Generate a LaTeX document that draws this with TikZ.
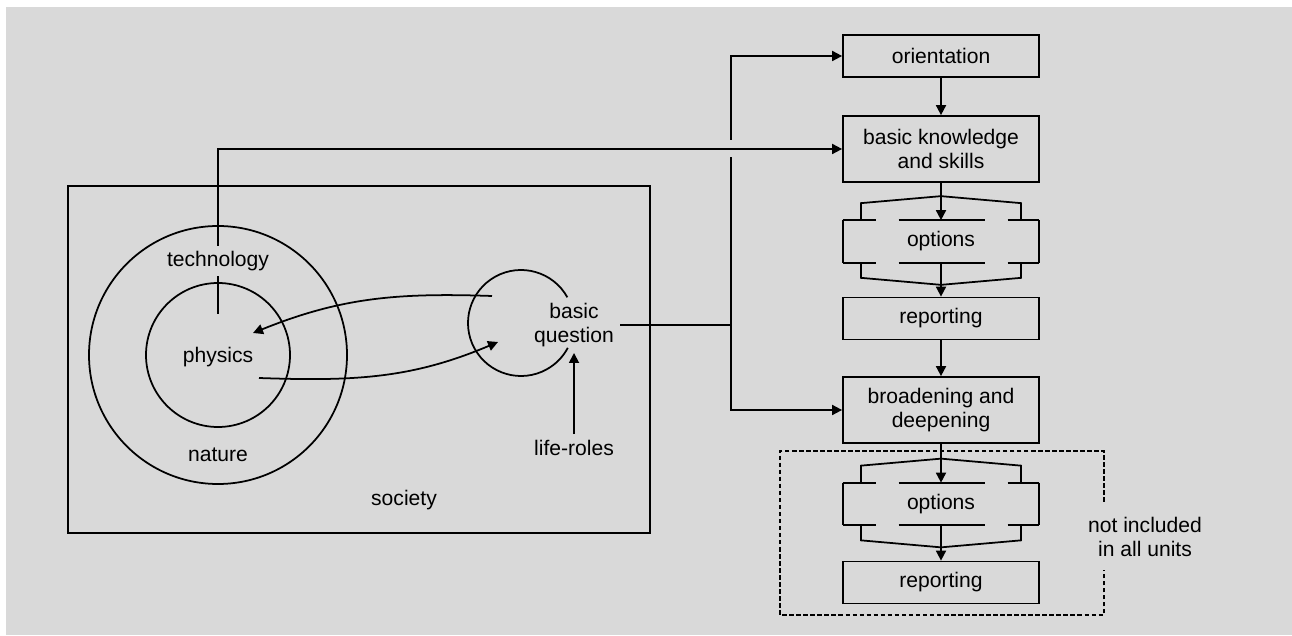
\documentclass[tikz,border=0pt]{standalone}
\usepackage{fontspec}
\setmainfont{Liberation Sans}
\usepackage{tikz}
\usetikzlibrary{
  positioning,
  arrows.meta,
  calc
}
\definecolor{BackGray}{RGB}{217,217,217}
\tikzset{
  % every text in the picture
  every node/.style={font=\fontsize{12}{13.6}\selectfont},
  % plain line
  conn/.style={line width=1pt},
  % arrow line
  arr/.style={conn, -{Triangle[length=2mm,width=2mm]}},
  % process box on the right
  stepbox/.style={
    draw,
    line width=1pt,
    minimum width=3.92cm,
    minimum height=0.84cm,
    inner sep=0pt,
    align=center
  },
  % box with two lines of text
  tallbox/.style={stepbox, minimum height=1.32cm},
  % options block, drawn by hand
  optbox/.style={minimum width=3.92cm, minimum height=0.84cm, inner sep=0pt},
  % free label
  lbl/.style={align=center},
  % dashed frame
  dashbox/.style={line width=1pt, dash pattern=on 2.6pt off 1.4pt}
}
\begin{document}
\begin{tikzpicture}
  \useasboundingbox (0,0) rectangle (25.84,12.7);
  \fill[BackGray] (0.12,0) rectangle (25.84,12.56);

  % society and the circles
  \draw[conn] (1.36,2.04) rectangle (13.0,8.98);
  \coordinate (ctr) at (4.36,5.6);
  \draw[conn] (ctr) circle[radius=2.58];
  \draw[conn] (ctr) circle[radius=1.44];
  \node[lbl, inner ysep=0.1cm] (tech) at (4.36,7.48) {technology};
  \node[lbl] (phys) at (4.36,5.56) {physics};
  \node[lbl] (nat)  at (4.36,3.6)  {nature};
  \node[lbl] (soc)  at (8.08,2.7)  {society};

  % basic question
  \coordinate (bqc) at (10.42,6.24);
  \draw[conn] ([shift={(29:1.06)}]bqc) arc[start angle=29, end angle=332, radius=1.06];
  \node[lbl] (bq) at (11.48,6.2) {basic\\question};
  \node[lbl] (life) at (11.48,3.74) {life-roles};

  % right column
  \node[stepbox] (ori)  at (18.82,11.58) {orientation};
  \node[tallbox] (bk)   at (18.82,9.72)  {basic knowledge\\and skills};
  \node[optbox] (opt1)  at (18.82,7.87)  {options};
  \node[stepbox] (rep1) at (18.82,6.33)  {reporting};
  \node[tallbox] (brd)  at (18.82,4.5)   {broadening and\\deepening};
  \node[optbox] (opt2)  at (18.82,2.62)  {options};
  \node[stepbox] (rep2) at (18.82,1.05)  {reporting};
  \node[lbl] (notinc) at (22.9,1.96) {not included\\in all units};

  \foreach \o in {opt1,opt2}{
    \draw[conn] (\o.north west) -- (\o.south west);
    \draw[conn] (\o.north east) -- (\o.south east);
    \foreach \a/\b in {0/0.66,1.12/2.84,3.3/3.92}{
      \draw[conn] ([xshift=\a cm]\o.north west) -- ([xshift=\b cm]\o.north west);
      \draw[conn] ([xshift=\a cm]\o.south west) -- ([xshift=\b cm]\o.south west);
    }
    \draw[conn] ([xshift=-1.6cm]\o.north) -- ++(0,0.34) -- ([yshift=0.48cm]\o.north)
      -- ([xshift=1.6cm,yshift=0.34cm]\o.north) -- ++(0,-0.34);
    \draw[conn] ([xshift=-1.6cm]\o.south) -- ++(0,-0.3) -- ([yshift=-0.44cm]\o.south)
      -- ([xshift=1.6cm,yshift=-0.3cm]\o.south) -- ++(0,0.3);
  }

  % dashed frame, open where the label sits
  \coordinate (dtop) at (22.08,2.66);
  \coordinate (dbot) at (22.08,1.3);
  \draw[dashbox] (dtop) |- (15.6,3.68) |- (22.08,0.4) -- (dbot);

  % flow in the column
  \draw[arr] (ori) -- (bk);
  \draw[arr] (bk) -- (opt1);
  \draw[arr] (opt1) -- (rep1);
  \draw[arr] (rep1) -- (brd);
  \draw[arr] (brd) -- (opt2);
  \draw[arr] (opt2) -- (rep2);

  % technology line
  \coordinate (tchin) at (4.36,6.42);
  \draw[conn] (tchin) -- (tech.south);
  \draw[arr] (tech.north) |- (bk.west);

  % basic question out to the column
  \coordinate (j)  at (14.62,6.2);
  \coordinate (jb) at (14.62,9.56);
  \coordinate (jt) at (14.62,9.9);
  \draw[conn] (bq.east) -- (j);
  \draw[conn] (j) -- (jb);
  \draw[arr] (jt) |- (ori.west);
  \draw[arr] (j) |- (brd.west);

  % between physics and basic question
  \coordinate (bqout) at (9.84,6.78);
  \coordinate (phyin) at (5.06,6.04);
  \coordinate (phyout) at (5.18,5.14);
  \coordinate (bqin) at (9.96,5.86);
  \draw[arr] (bqout) to[out=178,in=22] (phyin);
  \draw[arr] (phyout) to[out=-2,in=203] (bqin);
  \draw[arr] (life) -- (bq);
\end{tikzpicture}
\end{document}
